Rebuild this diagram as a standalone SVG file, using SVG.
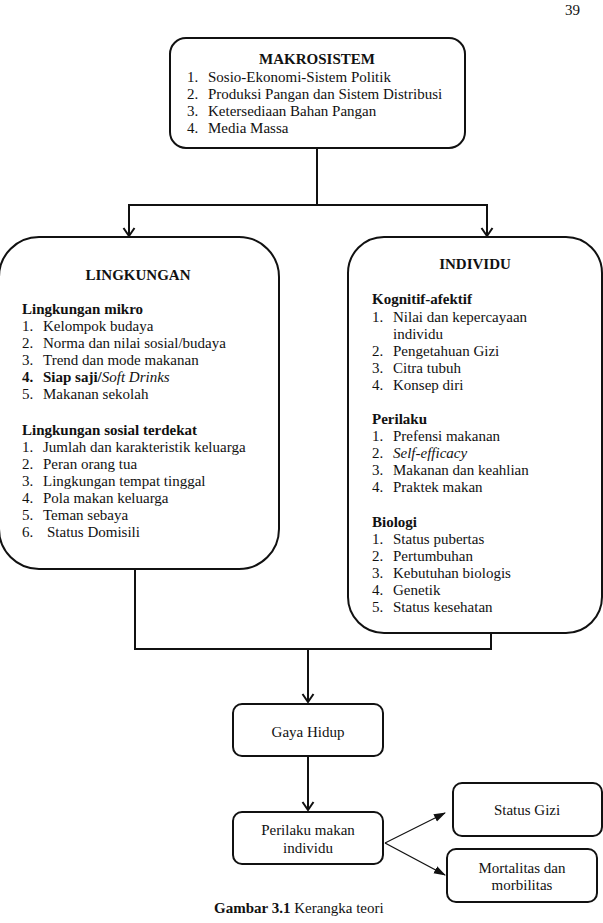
<svg xmlns="http://www.w3.org/2000/svg" width="603" height="923" viewBox="0 0 603 923">
<style>
text{font-family:"Liberation Serif","Times New Roman",serif;font-size:15px;fill:#111}
.b{font-weight:bold}
.i{font-style:italic}
.s{font-size:15px}
.box{fill:#fff;stroke:#111;stroke-width:2}
.con{fill:none;stroke:#111;stroke-width:2}
.thin{fill:none;stroke:#111;stroke-width:1.2}
</style>
<defs>
<marker id="open" markerWidth="14" markerHeight="14" refX="11" refY="7" orient="auto" markerUnits="userSpaceOnUse" viewBox="0 0 14 14">
<path d="M3,1.5 L11,7 L3,12.5" fill="none" stroke="#111" stroke-width="2"/>
</marker>
<marker id="tri" markerWidth="12" markerHeight="10" refX="11" refY="5" orient="auto" markerUnits="userSpaceOnUse" viewBox="0 0 12 10">
<path d="M0,1 L12,5 L0,9 Z" fill="#111"/>
</marker>
</defs>
<text x="565" y="15" font-size="16">39</text>
<g id="connectors">
<path class="con" d="M317,148 V205 M129,205 H487"/>
<path class="con" d="M129,204 V236" marker-end="url(#open)"/>
<path class="con" d="M487,204 V236" marker-end="url(#open)"/>
<path class="con" d="M135,569 V649 H491 V633"/>
<path class="con" d="M308,649 V702" marker-end="url(#open)"/>
<path class="con" d="M308,756 V810" marker-end="url(#open)"/>
<path class="thin" d="M385,843 L445,813" marker-end="url(#tri)"/>
<path class="thin" d="M385,843 L445,875" marker-end="url(#tri)"/>
</g>
<g id="makrosistem">
<rect class="box" x="170" y="38" width="295" height="110" rx="16"/>
<text class="b" x="317" y="64" text-anchor="middle">MAKROSISTEM</text>
<text x="187" y="82">1.</text><text x="208" y="82">Sosio-Ekonomi-Sistem Politik</text>
<text x="187" y="99">2.</text><text x="208" y="99">Produksi Pangan dan Sistem Distribusi</text>
<text x="187" y="116">3.</text><text x="208" y="116">Ketersediaan Bahan Pangan</text>
<text x="187" y="133">4.</text><text x="208" y="133">Media Massa</text>
</g>
<g id="lingkungan">
<rect class="box" x="-1" y="237" width="280" height="332" rx="40"/>
<text class="b" x="138" y="280" text-anchor="middle">LINGKUNGAN</text>
<text class="b" x="22" y="314">Lingkungan mikro</text>
<text x="22" y="331">1.</text><text x="43" y="331">Kelompok budaya</text>
<text x="22" y="348">2.</text><text x="43" y="348">Norma dan nilai sosial/budaya</text>
<text x="22" y="365">3.</text><text x="43" y="365">Trend dan mode makanan</text>
<text class="b" x="22" y="382">4.</text><text x="43" y="382"><tspan class="b">Siap saji/</tspan><tspan class="i">Soft Drinks</tspan></text>
<text x="22" y="399">5.</text><text x="43" y="399">Makanan sekolah</text>
<text class="b" x="22" y="435">Lingkungan sosial terdekat</text>
<text x="22" y="452">1.</text><text x="43" y="452">Jumlah dan karakteristik keluarga</text>
<text x="22" y="469">2.</text><text x="43" y="469">Peran orang tua</text>
<text x="22" y="486">3.</text><text x="43" y="486">Lingkungan tempat tinggal</text>
<text x="22" y="503">4.</text><text x="43" y="503">Pola makan keluarga</text>
<text x="22" y="520">5.</text><text x="43" y="520">Teman sebaya</text>
<text x="22" y="537">6.</text><text x="47" y="537">Status Domisili</text>
</g>
<g id="individu">
<rect class="box" x="348" y="237" width="254" height="396" rx="36"/>
<text class="b" x="475" y="269" text-anchor="middle">INDIVIDU</text>
<text class="b" x="372" y="304">Kognitif-afektif</text>
<text x="372" y="322">1.</text><text x="393" y="322">Nilai dan kepercayaan</text>
<text x="393" y="339">individu</text>
<text x="372" y="356">2.</text><text x="393" y="356">Pengetahuan Gizi</text>
<text x="372" y="373">3.</text><text x="393" y="373">Citra tubuh</text>
<text x="372" y="390">4.</text><text x="393" y="390">Konsep diri</text>
<text class="b" x="372" y="424">Perilaku</text>
<text x="372" y="441">1.</text><text x="393" y="441">Prefensi makanan</text>
<text x="372" y="458">2.</text><text class="i" x="393" y="458">Self-efficacy</text>
<text x="372" y="475">3.</text><text x="393" y="475">Makanan dan keahlian</text>
<text x="372" y="492">4.</text><text x="393" y="492">Praktek makan</text>
<text class="b" x="372" y="527">Biologi</text>
<text x="372" y="544">1.</text><text x="393" y="544">Status pubertas</text>
<text x="372" y="561">2.</text><text x="393" y="561">Pertumbuhan</text>
<text x="372" y="578">3.</text><text x="393" y="578">Kebutuhan biologis</text>
<text x="372" y="595">4.</text><text x="393" y="595">Genetik</text>
<text x="372" y="612">5.</text><text x="393" y="612">Status kesehatan</text>
</g>
<g id="gaya-hidup">
<rect class="box" x="233" y="704" width="150" height="52" rx="9"/>
<text class="s" x="308" y="737" text-anchor="middle">Gaya Hidup</text>
</g>
<g id="perilaku-makan">
<rect class="box" x="233" y="812" width="150" height="52" rx="9"/>
<text class="s" x="308" y="835" text-anchor="middle">Perilaku makan</text>
<text class="s" x="308" y="853" text-anchor="middle">individu</text>
</g>
<g id="status-gizi">
<rect class="box" x="453" y="783" width="149" height="53" rx="9"/>
<text class="s" x="527" y="815" text-anchor="middle">Status Gizi</text>
</g>
<g id="mortalitas">
<rect class="box" x="447" y="849" width="150" height="53" rx="9"/>
<text class="s" x="522" y="873" text-anchor="middle">Mortalitas dan</text>
<text class="s" x="522" y="890" text-anchor="middle">morbilitas</text>
</g>
<text x="214" y="913" font-size="16.5"><tspan class="b">Gambar 3.1</tspan> Kerangka teori</text>
</svg>
